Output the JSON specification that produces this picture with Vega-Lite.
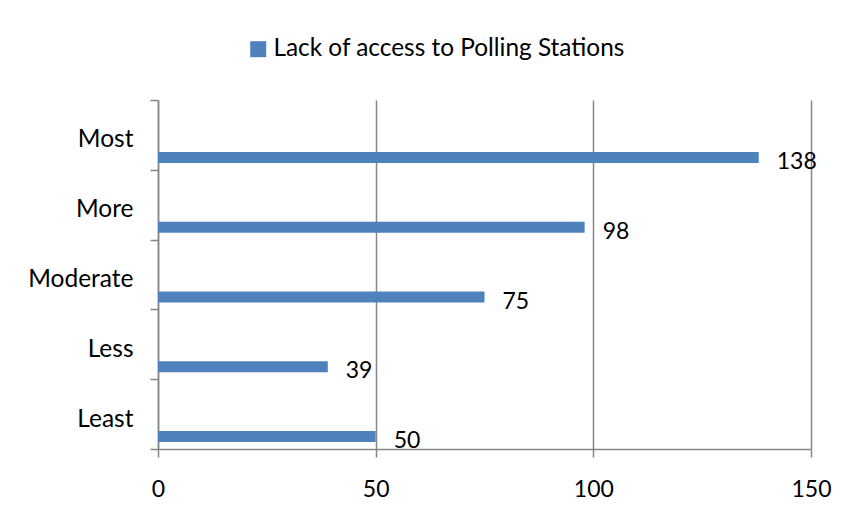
{
  "$schema": "https://vega.github.io/schema/vega-lite/v6.json",
  "width": 653,
  "height": 349,
  "autosize": {"type": "none"},
  "padding": {"left": 158, "top": 100, "right": 39, "bottom": 63},
  "background": "white",
  "config": {"view": {"stroke": null}, "font": "Lato"},
  "data": {
    "values": [
      {"level": "Most", "value": 138, "series": "Lack of access to Polling Stations"},
      {"level": "More", "value": 98, "series": "Lack of access to Polling Stations"},
      {"level": "Moderate", "value": 75, "series": "Lack of access to Polling Stations"},
      {"level": "Less", "value": 39, "series": "Lack of access to Polling Stations"},
      {"level": "Least", "value": 50, "series": "Lack of access to Polling Stations"}
    ]
  },
  "encoding": {
    "y": {
      "field": "level",
      "type": "nominal",
      "sort": ["Most", "More", "Moderate", "Less", "Least"],
      "scale": {"paddingInner": 0, "paddingOuter": 0},
      "axis": {
        "title": null,
        "tickBand": "extent",
        "tickSize": 8,
        "tickColor": "#868686",
        "tickWidth": 1.5,
        "domainColor": "#868686",
        "domainWidth": 1.5,
        "labelFontSize": 24.5,
        "labelColor": "#000000",
        "labelPadding": 17,
        "labelOffset": 5,
        "labelLimit": 300
      }
    },
    "x": {
      "field": "value",
      "type": "quantitative",
      "scale": {"domain": [0, 150]},
      "axis": {
        "title": null,
        "values": [0, 50, 100, 150],
        "grid": true,
        "gridColor": "#868686",
        "gridWidth": 1.5,
        "tickSize": 8,
        "tickColor": "#868686",
        "tickWidth": 1.5,
        "domainColor": "#868686",
        "domainWidth": 1.5,
        "labelFontSize": 23,
        "labelColor": "#000000",
        "labelPadding": 21,
        "labelFlush": false
      }
    }
  },
  "layer": [
    {
      "mark": {"type": "bar", "height": 11, "yOffset": 22.5},
      "encoding": {
        "color": {
          "field": "series",
          "type": "nominal",
          "scale": {"range": ["#4F81BD"]},
          "legend": {
            "title": null,
            "orient": "none",
            "legendX": 88,
            "legendY": -63,
            "symbolType": "square",
            "symbolSize": 256,
            "symbolStrokeWidth": 0,
            "labelFontSize": 24.4,
            "labelColor": "#000000",
            "labelOffset": 3,
            "labelLimit": 600
          }
        }
      }
    },
    {
      "mark": {"type": "text", "align": "left", "baseline": "middle", "dx": 18, "yOffset": 27, "fontSize": 23, "color": "#000000"},
      "encoding": {"text": {"field": "value", "type": "quantitative"}}
    }
  ]
}
